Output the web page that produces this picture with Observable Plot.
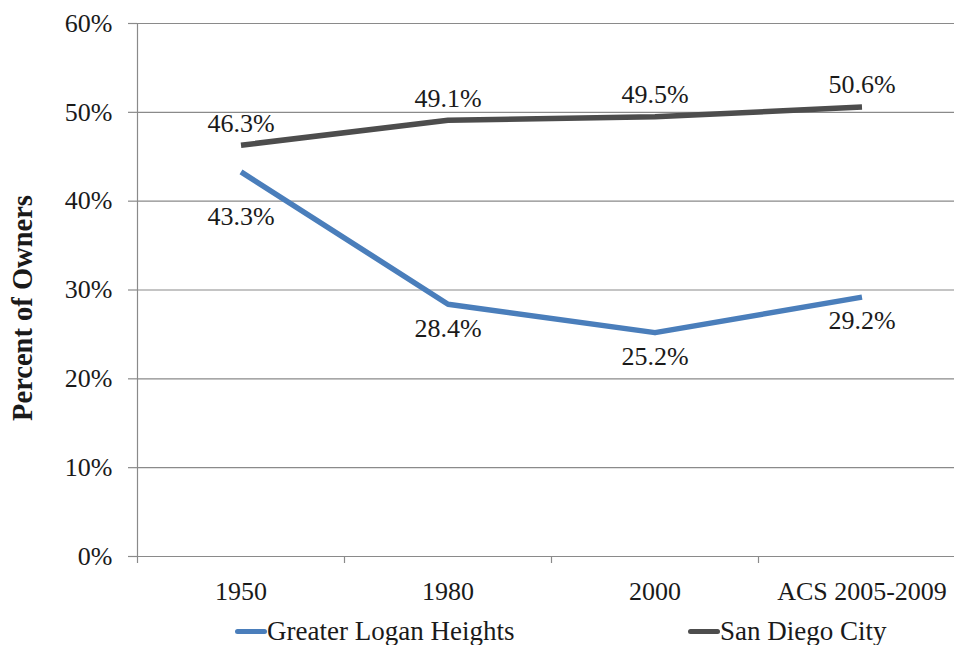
<!DOCTYPE html>
<html>
<head>
<meta charset="utf-8">
<script src="https://cdn.jsdelivr.net/npm/d3@7"></script>
<script src="https://cdn.jsdelivr.net/npm/@observablehq/plot@0.6"></script>
<style>
  html, body { margin: 0; padding: 0; background: #fff; }
  #wrap { position: relative; width: 954px; height: 645px; overflow: hidden; font-family: "Liberation Serif", "Times New Roman", serif; color: #1a1a1a; }
  #legend { position: absolute; left: 0; top: 615px; width: 954px; height: 32px; }
  .item { position: absolute; top: 0; display: flex; align-items: center; font-size: 27px; white-space: nowrap; height: 32px; }
  .sw { display: inline-block; width: 32px; height: 5px; border-radius: 2.5px; margin-right: 0px; }
  #ytitle { position: absolute; left: 23px; top: 308px; transform: translate(-50%, -50%) rotate(-90deg); font-size: 28.5px; font-weight: bold; white-space: nowrap; }
</style>
</head>
<body>
<div id="wrap">
  <div id="chart"></div>
  <div id="ytitle"></div>
  <div id="legend"></div>
</div>
<script>
const categories = ["1950", "1980", "2000", "ACS 2005-2009"];
const loganHeights = [0.433, 0.284, 0.252, 0.292];
const sanDiegoCity = [0.463, 0.491, 0.495, 0.506];
const yTicks = [0, 0.1, 0.2, 0.3, 0.4, 0.5, 0.6];
const seriesNames = ["Greater Logan Heights", "San Diego City"];
const seriesColors = ["#4a7ebb", "#4d4d4d"];
const yTitle = "Percent of Owners";

const idx = categories.map((_, i) => i);
const bounds = [-0.5, 0.5, 1.5, 2.5, 3.5];
const pct = d3.format(".1%");
const gridColor = "#8a8a8a";
const serif = "'Liberation Serif', 'Times New Roman', serif";

const chart = Plot.plot({
  width: 954,
  height: 610,
  marginLeft: 137,
  marginRight: 0,
  marginTop: 23,
  marginBottom: 54,
  style: { fontFamily: serif, color: "#1a1a1a", background: "#fff" },
  x: { type: "linear", domain: [-0.5, 3.5], range: [137, 965] },
  y: { domain: [0, 0.6] },
  marks: [
    Plot.gridY(yTicks, { stroke: gridColor, strokeOpacity: 1, strokeWidth: 1.2 }),
    Plot.ruleX([-0.5], { y1: 0, y2: 0.6, stroke: gridColor, strokeWidth: 1.2 }),
    Plot.axisY(yTicks, {
      tickFormat: d3.format(".0%"), tickSize: 9, tickPadding: 16,
      fontSize: 26, stroke: gridColor, strokeWidth: 1.2, label: null, fill: "#1a1a1a"
    }),
    Plot.axisX(bounds, { tickSize: 7, tickFormat: () => "", stroke: gridColor, strokeWidth: 1.2, label: null }),
    Plot.axisX(idx, {
      tickSize: 0, tickPadding: 25, tickFormat: i => categories[i],
      fontSize: 26, label: null, fill: "#1a1a1a"
    }),
    Plot.lineY(loganHeights, { x: (d, i) => i, y: d => d, stroke: seriesColors[0], strokeWidth: 5.5, strokeLinecap: "butt", strokeLinejoin: "round" }),
    Plot.lineY(sanDiegoCity, { x: (d, i) => i, y: d => d, stroke: seriesColors[1], strokeWidth: 5.5, strokeLinecap: "butt", strokeLinejoin: "round" }),
    Plot.text(sanDiegoCity, { x: (d, i) => i, y: d => d, text: d => pct(d), dy: -22, fontSize: 26, fill: "#1a1a1a" }),
    Plot.text(loganHeights, { x: (d, i) => i, y: d => d, text: d => pct(d), dy: 24, fontSize: 26, fill: "#1a1a1a", filter: (d, i) => i > 0 }),
    Plot.text(loganHeights, { x: (d, i) => i, y: d => d, text: d => pct(d), dy: 45, fontSize: 26, fill: "#1a1a1a", filter: (d, i) => i === 0 })
  ]
});
document.getElementById("chart").appendChild(chart);
document.getElementById("ytitle").textContent = yTitle;

const legend = document.getElementById("legend");
const lefts = [235, 688];
seriesNames.forEach((name, k) => {
  const it = document.createElement("div");
  it.className = "item";
  it.style.left = lefts[k] + "px";
  const sw = document.createElement("span");
  sw.className = "sw";
  sw.style.background = seriesColors[k];
  it.appendChild(sw);
  it.appendChild(document.createTextNode(name));
  legend.appendChild(it);
});
</script>
</body>
</html>
